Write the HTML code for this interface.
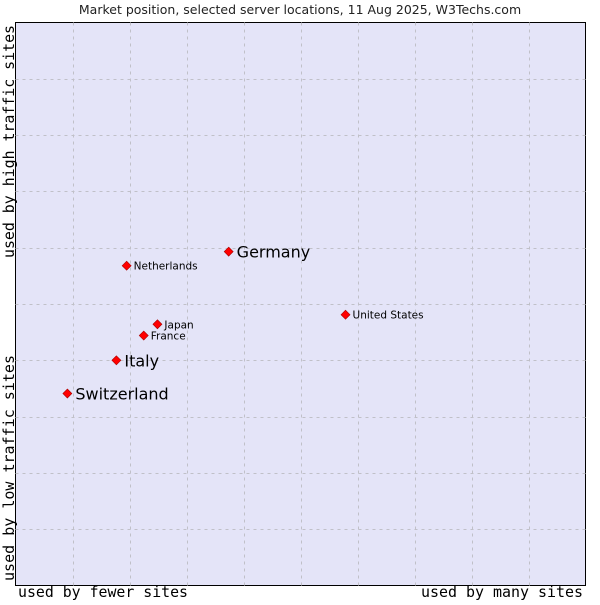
<!DOCTYPE html>
<html><head><meta charset="utf-8"><style>
body{margin:0;background:#fff;width:600px;height:600px;overflow:hidden}
svg text{font-family:"DejaVu Sans","Liberation Sans",sans-serif}
.mono{font-family:"DejaVu Sans Mono","Liberation Mono",monospace}
</style></head><body>
<svg id="chart" width="600" height="600">
<text x="300" y="14" text-anchor="middle" font-size="12.5" fill="#222">Market position, selected server locations, 11 Aug 2025, W3Techs.com</text>
<rect x="15.5" y="22.5" width="570" height="563" fill="#e4e4f8" stroke="#000" stroke-width="1"/>
<g id="grid"></g>
<g id="points"></g>
<text class="mono" x="18" y="597" font-size="15" textLength="170" lengthAdjust="spacingAndGlyphs" fill="#000">used by fewer sites</text>
<text class="mono" x="421" y="597" font-size="15" textLength="162" lengthAdjust="spacingAndGlyphs" fill="#000">used by many sites</text>
<text class="mono" transform="translate(14,581) rotate(-90)" font-size="15" textLength="226" lengthAdjust="spacingAndGlyphs" fill="#000">used by low traffic sites</text>
<text class="mono" transform="translate(14,258) rotate(-90)" font-size="15" textLength="233" lengthAdjust="spacingAndGlyphs" fill="#000">used by high traffic sites</text>
</svg>
<script>
const names = ["Germany","Netherlands","United States","Japan","France","Italy","Switzerland"];
const xVals = [37.4,19.5,57.9,24.9,22.5,17.7,9.1];
const yVals = [59.3,56.8,48.1,46.4,44.4,40.0,34.1];
const big = [true,false,false,false,false,true,true];
const ns="http://www.w3.org/2000/svg";
const X0=15.5,X1=585.5,Y0=585.5,Y1=22.5;
const sx=v=>X0+(X1-X0)*v/100, sy=v=>Y0-(Y0-Y1)*v/100;
const grid=document.getElementById('grid');
for(let i=1;i<10;i++){
  const v=document.createElementNS(ns,'line');
  const x=Math.round(sx(i*10))+0.5;
  v.setAttribute('x1',x);v.setAttribute('x2',x);v.setAttribute('y1',Y1);v.setAttribute('y2',Y0);
  v.setAttribute('stroke','#c0c0c8');v.setAttribute('stroke-dasharray','3,4');
  
  
  grid.appendChild(v);
  const h=document.createElementNS(ns,'line');
  const y=Math.round(sy(i*10))+0.5;
  h.setAttribute('x1',X0);h.setAttribute('x2',X1);h.setAttribute('y1',y);h.setAttribute('y2',y);
  h.setAttribute('stroke','#c0c0c8');h.setAttribute('stroke-dasharray','3,4');
  
  
  grid.appendChild(h);
}
const pts=document.getElementById('points');
names.forEach((n,i)=>{
  const x=sx(xVals[i]),y=sy(yVals[i]);
  const d=document.createElementNS(ns,'path');
  d.setAttribute('d',`M${x} ${y-4.5}L${x+4.5} ${y}L${x} ${y+4.5}L${x-4.5} ${y}Z`);
  d.setAttribute('fill','#f00');d.setAttribute('stroke','#a00');d.setAttribute('stroke-width','0.6');
  
  
  pts.appendChild(d);
  const t=document.createElementNS(ns,'text');
  t.setAttribute('x',x+(big[i]?8:7));t.setAttribute('y',y+(big[i]?6:4));
  t.setAttribute('font-size',big[i]?'16':'10.5');t.setAttribute('fill','#000');
  t.textContent=n;
  
  
  pts.appendChild(t);
});
</script>
</body></html>
